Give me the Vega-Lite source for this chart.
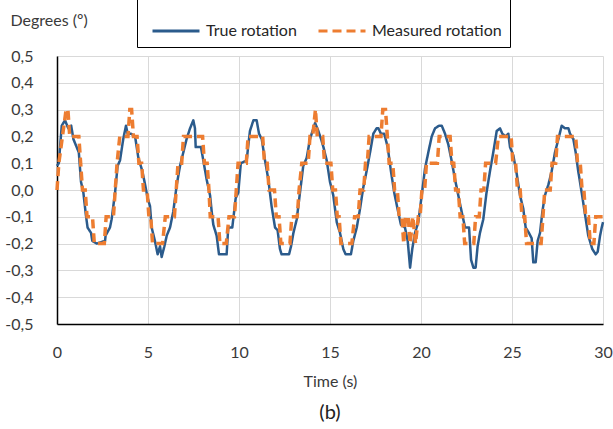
{
  "$schema": "https://vega.github.io/schema/vega-lite/v6.json",
  "width": 546,
  "height": 268,
  "autosize": {"type": "none"},
  "padding": {"left": 57, "top": 56, "right": 10, "bottom": 105},
  "background": "white",
  "config": {
    "view": {"stroke": null},
    "font": "Lato",
    "axis": {"labelFont": "Lato", "titleFont": "Lato", "labelColor": "#3A3A3A", "titleColor": "#3A3A3A", "labelFontSize": 16, "titleFontSize": 16, "titleFontWeight": "normal", "gridColor": "#D9D9D9", "gridWidth": 1, "domainColor": "#000000", "domainWidth": 1.5, "ticks": false, "tickSize": 0},
    "legend": {"title": null, "orient": "none", "legendX": 80, "legendY": -58, "direction": "horizontal", "strokeColor": "#000000", "fillColor": "#FFFFFF", "padding": 8, "symbolType": "stroke", "symbolSize": 2209, "symbolStrokeWidth": 3, "labelFontSize": 16, "labelFont": "Lato", "labelColor": "#262626", "labelOffset": 5, "columnPadding": 14, "symbolOffset": 6}
  },
  "title": {"text": "(b)", "orient": "bottom", "anchor": "middle", "frame": "group", "offset": 14, "fontSize": 20, "font": "Lato", "fontWeight": "normal", "color": "#222222"},
  "datasets": {
    "rot": [
      {"s":"True rotation","t":0.0,"v":0.09},{"s":"True rotation","t":0.1,"v":0.1},{"s":"True rotation","t":0.26,"v":0.24},{"s":"True rotation","t":0.44,"v":0.26},{"s":"True rotation","t":0.62,"v":0.23},{"s":"True rotation","t":0.78,"v":0.24},{"s":"True rotation","t":0.9,"v":0.19},{"s":"True rotation","t":1.08,"v":0.16},{"s":"True rotation","t":1.2,"v":0.14},{"s":"True rotation","t":1.32,"v":0.03},{"s":"True rotation","t":1.45,"v":-0.01},{"s":"True rotation","t":1.58,"v":-0.09},{"s":"True rotation","t":1.68,"v":-0.14},{"s":"True rotation","t":1.87,"v":-0.16},{"s":"True rotation","t":1.94,"v":-0.19},{"s":"True rotation","t":2.18,"v":-0.2},{"s":"True rotation","t":2.64,"v":-0.19},{"s":"True rotation","t":2.67,"v":-0.17},{"s":"True rotation","t":2.91,"v":-0.14},{"s":"True rotation","t":3.0,"v":-0.11},{"s":"True rotation","t":3.19,"v":-0.01},{"s":"True rotation","t":3.33,"v":0.09},{"s":"True rotation","t":3.46,"v":0.11},{"s":"True rotation","t":3.64,"v":0.19},{"s":"True rotation","t":3.79,"v":0.24},{"s":"True rotation","t":3.88,"v":0.21},{"s":"True rotation","t":4.07,"v":0.21},{"s":"True rotation","t":4.29,"v":0.2},{"s":"True rotation","t":4.47,"v":0.12},{"s":"True rotation","t":4.69,"v":0.07},{"s":"True rotation","t":4.84,"v":0.02},{"s":"True rotation","t":4.98,"v":-0.03},{"s":"True rotation","t":5.11,"v":-0.06},{"s":"True rotation","t":5.2,"v":-0.14},{"s":"True rotation","t":5.38,"v":-0.19},{"s":"True rotation","t":5.53,"v":-0.24},{"s":"True rotation","t":5.66,"v":-0.21},{"s":"True rotation","t":5.75,"v":-0.25},{"s":"True rotation","t":5.9,"v":-0.21},{"s":"True rotation","t":6.03,"v":-0.17},{"s":"True rotation","t":6.21,"v":-0.14},{"s":"True rotation","t":6.39,"v":-0.08},{"s":"True rotation","t":6.58,"v":0.02},{"s":"True rotation","t":6.76,"v":0.09},{"s":"True rotation","t":6.94,"v":0.14},{"s":"True rotation","t":7.12,"v":0.19},{"s":"True rotation","t":7.31,"v":0.23},{"s":"True rotation","t":7.49,"v":0.26},{"s":"True rotation","t":7.58,"v":0.23},{"s":"True rotation","t":7.62,"v":0.16},{"s":"True rotation","t":7.91,"v":0.16},{"s":"True rotation","t":8.04,"v":0.11},{"s":"True rotation","t":8.22,"v":0.04},{"s":"True rotation","t":8.41,"v":-0.02},{"s":"True rotation","t":8.5,"v":-0.08},{"s":"True rotation","t":8.59,"v":-0.13},{"s":"True rotation","t":8.77,"v":-0.17},{"s":"True rotation","t":8.9,"v":-0.24},{"s":"True rotation","t":9.32,"v":-0.24},{"s":"True rotation","t":9.41,"v":-0.14},{"s":"True rotation","t":9.63,"v":-0.14},{"s":"True rotation","t":9.82,"v":-0.03},{"s":"True rotation","t":9.96,"v":-0.01},{"s":"True rotation","t":10.1,"v":0.1},{"s":"True rotation","t":10.42,"v":0.11},{"s":"True rotation","t":10.6,"v":0.22},{"s":"True rotation","t":10.79,"v":0.26},{"s":"True rotation","t":10.97,"v":0.26},{"s":"True rotation","t":11.1,"v":0.21},{"s":"True rotation","t":11.25,"v":0.19},{"s":"True rotation","t":11.43,"v":0.11},{"s":"True rotation","t":11.61,"v":0.04},{"s":"True rotation","t":11.79,"v":-0.06},{"s":"True rotation","t":11.98,"v":-0.14},{"s":"True rotation","t":12.12,"v":-0.15},{"s":"True rotation","t":12.25,"v":-0.22},{"s":"True rotation","t":12.34,"v":-0.24},{"s":"True rotation","t":12.75,"v":-0.24},{"s":"True rotation","t":12.86,"v":-0.21},{"s":"True rotation","t":12.99,"v":-0.16},{"s":"True rotation","t":13.17,"v":-0.11},{"s":"True rotation","t":13.35,"v":-0.01},{"s":"True rotation","t":13.53,"v":0.09},{"s":"True rotation","t":13.72,"v":0.12},{"s":"True rotation","t":13.9,"v":0.19},{"s":"True rotation","t":14.18,"v":0.25},{"s":"True rotation","t":14.36,"v":0.22},{"s":"True rotation","t":14.51,"v":0.19},{"s":"True rotation","t":14.64,"v":0.16},{"s":"True rotation","t":14.82,"v":0.11},{"s":"True rotation","t":15.0,"v":0.03},{"s":"True rotation","t":15.18,"v":-0.02},{"s":"True rotation","t":15.37,"v":-0.12},{"s":"True rotation","t":15.55,"v":-0.16},{"s":"True rotation","t":15.73,"v":-0.22},{"s":"True rotation","t":15.86,"v":-0.24},{"s":"True rotation","t":16.15,"v":-0.24},{"s":"True rotation","t":16.28,"v":-0.19},{"s":"True rotation","t":16.47,"v":-0.14},{"s":"True rotation","t":16.65,"v":-0.07},{"s":"True rotation","t":16.83,"v":0.01},{"s":"True rotation","t":17.01,"v":0.07},{"s":"True rotation","t":17.2,"v":0.14},{"s":"True rotation","t":17.38,"v":0.21},{"s":"True rotation","t":17.56,"v":0.23},{"s":"True rotation","t":17.66,"v":0.23},{"s":"True rotation","t":17.8,"v":0.21},{"s":"True rotation","t":17.98,"v":0.21},{"s":"True rotation","t":18.17,"v":0.16},{"s":"True rotation","t":18.35,"v":0.07},{"s":"True rotation","t":18.53,"v":-0.01},{"s":"True rotation","t":18.71,"v":-0.07},{"s":"True rotation","t":18.9,"v":-0.13},{"s":"True rotation","t":19.12,"v":-0.14},{"s":"True rotation","t":19.27,"v":-0.19},{"s":"True rotation","t":19.4,"v":-0.29},{"s":"True rotation","t":19.52,"v":-0.22},{"s":"True rotation","t":19.67,"v":-0.16},{"s":"True rotation","t":19.85,"v":-0.12},{"s":"True rotation","t":20.04,"v":-0.02},{"s":"True rotation","t":20.22,"v":0.08},{"s":"True rotation","t":20.4,"v":0.14},{"s":"True rotation","t":20.59,"v":0.2},{"s":"True rotation","t":20.77,"v":0.23},{"s":"True rotation","t":20.99,"v":0.24},{"s":"True rotation","t":21.14,"v":0.24},{"s":"True rotation","t":21.32,"v":0.21},{"s":"True rotation","t":21.5,"v":0.17},{"s":"True rotation","t":21.68,"v":0.11},{"s":"True rotation","t":21.87,"v":0.04},{"s":"True rotation","t":22.05,"v":-0.02},{"s":"True rotation","t":22.23,"v":-0.08},{"s":"True rotation","t":22.42,"v":-0.14},{"s":"True rotation","t":22.64,"v":-0.14},{"s":"True rotation","t":22.75,"v":-0.26},{"s":"True rotation","t":22.88,"v":-0.29},{"s":"True rotation","t":23.0,"v":-0.29},{"s":"True rotation","t":23.11,"v":-0.21},{"s":"True rotation","t":23.24,"v":-0.16},{"s":"True rotation","t":23.42,"v":-0.11},{"s":"True rotation","t":23.6,"v":-0.01},{"s":"True rotation","t":23.79,"v":0.07},{"s":"True rotation","t":23.97,"v":0.14},{"s":"True rotation","t":24.16,"v":0.22},{"s":"True rotation","t":24.34,"v":0.23},{"s":"True rotation","t":24.47,"v":0.21},{"s":"True rotation","t":24.65,"v":0.2},{"s":"True rotation","t":24.8,"v":0.21},{"s":"True rotation","t":24.89,"v":0.16},{"s":"True rotation","t":25.07,"v":0.13},{"s":"True rotation","t":25.26,"v":0.06},{"s":"True rotation","t":25.44,"v":-0.02},{"s":"True rotation","t":25.62,"v":-0.07},{"s":"True rotation","t":25.75,"v":-0.14},{"s":"True rotation","t":25.93,"v":-0.16},{"s":"True rotation","t":26.08,"v":-0.18},{"s":"True rotation","t":26.17,"v":-0.27},{"s":"True rotation","t":26.3,"v":-0.27},{"s":"True rotation","t":26.41,"v":-0.19},{"s":"True rotation","t":26.54,"v":-0.16},{"s":"True rotation","t":26.67,"v":-0.08},{"s":"True rotation","t":26.81,"v":-0.02},{"s":"True rotation","t":27.0,"v":0.02},{"s":"True rotation","t":27.18,"v":0.07},{"s":"True rotation","t":27.36,"v":0.14},{"s":"True rotation","t":27.55,"v":0.19},{"s":"True rotation","t":27.73,"v":0.24},{"s":"True rotation","t":27.91,"v":0.23},{"s":"True rotation","t":28.1,"v":0.23},{"s":"True rotation","t":28.19,"v":0.21},{"s":"True rotation","t":28.37,"v":0.19},{"s":"True rotation","t":28.5,"v":0.14},{"s":"True rotation","t":28.64,"v":0.07},{"s":"True rotation","t":28.83,"v":-0.01},{"s":"True rotation","t":29.01,"v":-0.09},{"s":"True rotation","t":29.19,"v":-0.17},{"s":"True rotation","t":29.41,"v":-0.22},{"s":"True rotation","t":29.6,"v":-0.24},{"s":"True rotation","t":29.71,"v":-0.23},{"s":"True rotation","t":29.84,"v":-0.17},{"s":"True rotation","t":29.93,"v":-0.14},{"s":"True rotation","t":30.0,"v":-0.12},
      {"s":"Measured rotation","t":0.0,"v":0.0},{"s":"Measured rotation","t":0.1,"v":0.1},{"s":"Measured rotation","t":0.3,"v":0.2},{"s":"Measured rotation","t":0.5,"v":0.3},{"s":"Measured rotation","t":0.6,"v":0.3},{"s":"Measured rotation","t":0.7,"v":0.2},{"s":"Measured rotation","t":1.2,"v":0.2},{"s":"Measured rotation","t":1.3,"v":0.1},{"s":"Measured rotation","t":1.4,"v":0.0},{"s":"Measured rotation","t":1.55,"v":0.0},{"s":"Measured rotation","t":1.65,"v":-0.1},{"s":"Measured rotation","t":1.95,"v":-0.1},{"s":"Measured rotation","t":2.05,"v":-0.2},{"s":"Measured rotation","t":2.6,"v":-0.2},{"s":"Measured rotation","t":2.7,"v":-0.1},{"s":"Measured rotation","t":3.1,"v":-0.1},{"s":"Measured rotation","t":3.2,"v":0.0},{"s":"Measured rotation","t":3.3,"v":0.1},{"s":"Measured rotation","t":3.45,"v":0.2},{"s":"Measured rotation","t":3.9,"v":0.2},{"s":"Measured rotation","t":4.0,"v":0.3},{"s":"Measured rotation","t":4.1,"v":0.3},{"s":"Measured rotation","t":4.2,"v":0.2},{"s":"Measured rotation","t":4.4,"v":0.2},{"s":"Measured rotation","t":4.5,"v":0.1},{"s":"Measured rotation","t":4.65,"v":0.1},{"s":"Measured rotation","t":4.75,"v":0.0},{"s":"Measured rotation","t":4.95,"v":0.0},{"s":"Measured rotation","t":5.05,"v":-0.1},{"s":"Measured rotation","t":5.15,"v":-0.1},{"s":"Measured rotation","t":5.25,"v":-0.2},{"s":"Measured rotation","t":5.8,"v":-0.2},{"s":"Measured rotation","t":5.95,"v":-0.1},{"s":"Measured rotation","t":6.45,"v":-0.1},{"s":"Measured rotation","t":6.55,"v":0.0},{"s":"Measured rotation","t":6.65,"v":0.1},{"s":"Measured rotation","t":6.85,"v":0.1},{"s":"Measured rotation","t":6.95,"v":0.2},{"s":"Measured rotation","t":8.0,"v":0.2},{"s":"Measured rotation","t":8.1,"v":0.1},{"s":"Measured rotation","t":8.25,"v":0.1},{"s":"Measured rotation","t":8.35,"v":0.0},{"s":"Measured rotation","t":8.42,"v":-0.1},{"s":"Measured rotation","t":8.85,"v":-0.1},{"s":"Measured rotation","t":8.95,"v":-0.2},{"s":"Measured rotation","t":9.3,"v":-0.2},{"s":"Measured rotation","t":9.45,"v":-0.1},{"s":"Measured rotation","t":9.75,"v":-0.1},{"s":"Measured rotation","t":9.85,"v":0.0},{"s":"Measured rotation","t":9.95,"v":0.1},{"s":"Measured rotation","t":10.4,"v":0.1},{"s":"Measured rotation","t":10.5,"v":0.2},{"s":"Measured rotation","t":11.3,"v":0.2},{"s":"Measured rotation","t":11.4,"v":0.1},{"s":"Measured rotation","t":11.55,"v":0.1},{"s":"Measured rotation","t":11.65,"v":0.0},{"s":"Measured rotation","t":11.95,"v":0.0},{"s":"Measured rotation","t":12.05,"v":-0.1},{"s":"Measured rotation","t":12.2,"v":-0.1},{"s":"Measured rotation","t":12.3,"v":-0.2},{"s":"Measured rotation","t":12.8,"v":-0.2},{"s":"Measured rotation","t":12.9,"v":-0.1},{"s":"Measured rotation","t":13.2,"v":-0.1},{"s":"Measured rotation","t":13.3,"v":0.0},{"s":"Measured rotation","t":13.45,"v":0.1},{"s":"Measured rotation","t":13.8,"v":0.1},{"s":"Measured rotation","t":13.9,"v":0.2},{"s":"Measured rotation","t":14.05,"v":0.2},{"s":"Measured rotation","t":14.2,"v":0.3},{"s":"Measured rotation","t":14.3,"v":0.2},{"s":"Measured rotation","t":14.6,"v":0.2},{"s":"Measured rotation","t":14.7,"v":0.1},{"s":"Measured rotation","t":15.05,"v":0.1},{"s":"Measured rotation","t":15.15,"v":0.0},{"s":"Measured rotation","t":15.3,"v":0.0},{"s":"Measured rotation","t":15.4,"v":-0.1},{"s":"Measured rotation","t":15.5,"v":-0.1},{"s":"Measured rotation","t":15.6,"v":-0.2},{"s":"Measured rotation","t":16.2,"v":-0.2},{"s":"Measured rotation","t":16.35,"v":-0.1},{"s":"Measured rotation","t":16.55,"v":-0.1},{"s":"Measured rotation","t":16.65,"v":0.0},{"s":"Measured rotation","t":16.85,"v":0.0},{"s":"Measured rotation","t":16.95,"v":0.1},{"s":"Measured rotation","t":17.05,"v":0.1},{"s":"Measured rotation","t":17.15,"v":0.2},{"s":"Measured rotation","t":17.8,"v":0.2},{"s":"Measured rotation","t":17.9,"v":0.3},{"s":"Measured rotation","t":18.05,"v":0.3},{"s":"Measured rotation","t":18.15,"v":0.2},{"s":"Measured rotation","t":18.25,"v":0.1},{"s":"Measured rotation","t":18.45,"v":0.1},{"s":"Measured rotation","t":18.55,"v":0.0},{"s":"Measured rotation","t":18.7,"v":0.0},{"s":"Measured rotation","t":18.8,"v":-0.1},{"s":"Measured rotation","t":18.95,"v":-0.1},{"s":"Measured rotation","t":19.05,"v":-0.2},{"s":"Measured rotation","t":19.15,"v":-0.1},{"s":"Measured rotation","t":19.3,"v":-0.1},{"s":"Measured rotation","t":19.4,"v":-0.2},{"s":"Measured rotation","t":19.55,"v":-0.1},{"s":"Measured rotation","t":19.7,"v":-0.2},{"s":"Measured rotation","t":19.85,"v":-0.1},{"s":"Measured rotation","t":19.95,"v":-0.1},{"s":"Measured rotation","t":20.05,"v":0.0},{"s":"Measured rotation","t":20.2,"v":0.0},{"s":"Measured rotation","t":20.3,"v":0.1},{"s":"Measured rotation","t":20.9,"v":0.1},{"s":"Measured rotation","t":21.0,"v":0.2},{"s":"Measured rotation","t":21.6,"v":0.2},{"s":"Measured rotation","t":21.7,"v":0.1},{"s":"Measured rotation","t":21.8,"v":0.1},{"s":"Measured rotation","t":21.9,"v":0.0},{"s":"Measured rotation","t":22.05,"v":0.0},{"s":"Measured rotation","t":22.15,"v":-0.1},{"s":"Measured rotation","t":22.3,"v":-0.1},{"s":"Measured rotation","t":22.4,"v":-0.2},{"s":"Measured rotation","t":22.9,"v":-0.2},{"s":"Measured rotation","t":23.0,"v":-0.1},{"s":"Measured rotation","t":23.2,"v":-0.1},{"s":"Measured rotation","t":23.3,"v":0.0},{"s":"Measured rotation","t":23.45,"v":0.0},{"s":"Measured rotation","t":23.55,"v":0.1},{"s":"Measured rotation","t":24.1,"v":0.1},{"s":"Measured rotation","t":24.25,"v":0.2},{"s":"Measured rotation","t":24.95,"v":0.2},{"s":"Measured rotation","t":25.05,"v":0.1},{"s":"Measured rotation","t":25.2,"v":0.1},{"s":"Measured rotation","t":25.3,"v":0.0},{"s":"Measured rotation","t":25.45,"v":0.0},{"s":"Measured rotation","t":25.55,"v":-0.1},{"s":"Measured rotation","t":25.7,"v":-0.1},{"s":"Measured rotation","t":25.8,"v":-0.2},{"s":"Measured rotation","t":26.6,"v":-0.2},{"s":"Measured rotation","t":26.7,"v":-0.1},{"s":"Measured rotation","t":26.8,"v":0.0},{"s":"Measured rotation","t":27.1,"v":0.0},{"s":"Measured rotation","t":27.2,"v":0.1},{"s":"Measured rotation","t":27.4,"v":0.1},{"s":"Measured rotation","t":27.5,"v":0.2},{"s":"Measured rotation","t":28.5,"v":0.2},{"s":"Measured rotation","t":28.6,"v":0.1},{"s":"Measured rotation","t":28.75,"v":0.1},{"s":"Measured rotation","t":28.85,"v":0.0},{"s":"Measured rotation","t":28.95,"v":0.0},{"s":"Measured rotation","t":29.05,"v":-0.1},{"s":"Measured rotation","t":29.2,"v":-0.1},{"s":"Measured rotation","t":29.3,"v":-0.2},{"s":"Measured rotation","t":29.5,"v":-0.2},{"s":"Measured rotation","t":29.6,"v":-0.1},{"s":"Measured rotation","t":30.0,"v":-0.1}
    ]
  },
  "data": {"name": "rot"},
  "encoding": {
    "x": {"field": "t", "type": "quantitative", "scale": {"domain": [0, 30], "nice": false, "zero": false},
      "axis": {"values": [0, 5, 10, 15, 20, 25, 30], "title": "Time (s)", "labelPadding": 20, "titleY": 57, "titleBaseline": "middle", "labelFlush": false}},
    "y": {"field": "v", "type": "quantitative", "scale": {"domain": [-0.5, 0.5], "nice": false},
      "axis": {"values": [-0.5, -0.4, -0.3, -0.2, -0.1, 0, 0.1, 0.2, 0.3, 0.4, 0.5], "labelExpr": "(datum.value < -0.001 ? '-' : '') + replace(format(abs(datum.value), '.1f'), '.', ',')", "labelPadding": 24, "title": "Degrees (º)", "titleAngle": 0, "titleAlign": "left", "titleBaseline": "middle", "titleX": -47, "titleY": -36}},
    "color": {"field": "s", "type": "nominal", "scale": {"domain": ["True rotation", "Measured rotation"], "range": ["#2B5B8C", "#ED7D31"]}},
    "strokeDash": {"field": "s", "type": "nominal", "scale": {"domain": ["True rotation", "Measured rotation"], "range": [[1, 0], [9, 5]]}}
  },
  "layer": [
    {"transform": [{"filter": "datum.s === 'True rotation'"}], "mark": {"type": "line", "strokeWidth": 2.5, "strokeJoin": "round"}},
    {"transform": [{"filter": "datum.s === 'Measured rotation'"}], "mark": {"type": "line", "strokeWidth": 3.5}}
  ]
}
